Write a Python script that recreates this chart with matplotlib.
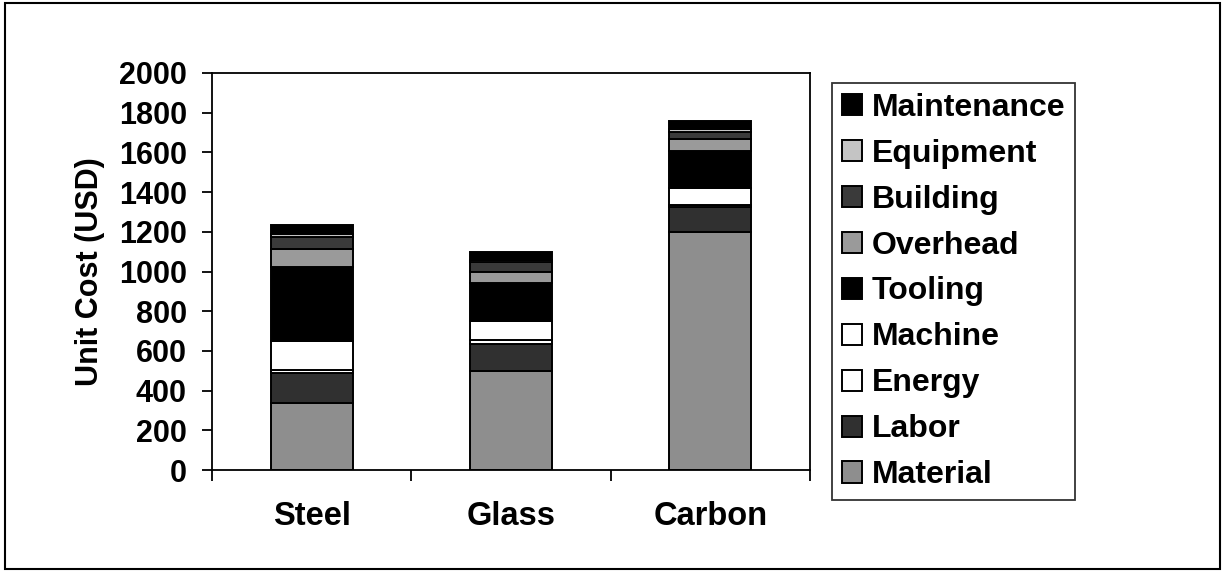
import matplotlib
matplotlib.use("Agg")
import matplotlib.pyplot as plt
from matplotlib.patches import Rectangle
import numpy as np

plt.rcParams['font.family'] = ['Liberation Sans', 'DejaVu Sans']
plt.rcParams['font.weight'] = 'bold'

categories = ["Steel", "Glass", "Carbon"]
components = ["Material", "Labor", "Energy", "Machine", "Tooling",
              "Overhead", "Building", "Equipment", "Maintenance"]
material    = [340, 500, 1200]
labor       = [150, 135, 125]
energy      = [15, 20, 12]
machine     = [145, 95, 85]
tooling     = [375, 190, 185]
overhead    = [90, 60, 60]
building    = [60, 50, 35]
equipment   = [15, 10, 15]
maintenance = [45, 40, 40]
series = [material, labor, energy, machine, tooling, overhead,
          building, equipment, maintenance]
colors = ["#8e8e8e", "#303030", "#ffffff", "#ffffff", "#000000",
          "#9a9a9a", "#3a3a3a", "#c4c4c4", "#000000"]
yticks = [0, 200, 400, 600, 800, 1000, 1200, 1400, 1600, 1800, 2000]

W, H = 1225, 577
fig = plt.figure(figsize=(W / 100, H / 100), dpi=100)
fig.patches.append(Rectangle((5 / W, 1 - 569 / H), (1220 - 5) / W, (569 - 3) / H,
                             transform=fig.transFigure, fill=False,
                             edgecolor='black', linewidth=1.5))

ax = fig.add_axes([212 / W, 1 - 470 / H, (810 - 212) / W, (470 - 73) / H])
x = np.arange(len(categories))
bottom = np.zeros(len(categories))
handles = []
for name, vals, c in zip(components, series, colors):
    b = ax.bar(x, vals, width=0.41, bottom=bottom, color=c,
               edgecolor='black', linewidth=1.4, label=name)
    handles.append(b)
    bottom += np.array(vals)

ax.set_xlim(-0.5, 2.5)
ax.set_ylim(0, 2000)
ax.set_yticks(yticks)
ax.set_yticklabels([str(t) for t in yticks], fontsize=22, fontweight='bold')
ax.set_xticks(x)
ax.set_xticklabels(categories, fontsize=23.5, fontweight='bold')
ax.tick_params(axis='x', length=0, pad=22)
ax.set_xticks([-0.5, 0.5, 1.5, 2.5], minor=True)
ax.tick_params(axis='x', which='minor', length=8, direction='out', width=1.3)
ax.tick_params(axis='y', length=7, direction='out', width=1.3, pad=11)
ax.set_ylabel("Unit Cost (USD)", fontsize=22, fontweight='bold', labelpad=10)
for s in ax.spines.values():
    s.set_linewidth(1.3)
    s.set_color('black')

leg = fig.legend(handles[::-1], components[::-1],
                 loc='upper left', bbox_to_anchor=(832 / W, 1 - 83 / H),
                 fontsize=23, frameon=True, fancybox=False,
                 edgecolor='black', handlelength=0.65, handleheight=0.65,
                 handletextpad=0.3, labelspacing=0.5, borderpad=0.3,
                 borderaxespad=0)
leg.get_frame().set_linewidth(1.3)
for t in leg.get_texts():
    t.set_fontweight('bold')

fig.savefig("out.png", dpi=100)
